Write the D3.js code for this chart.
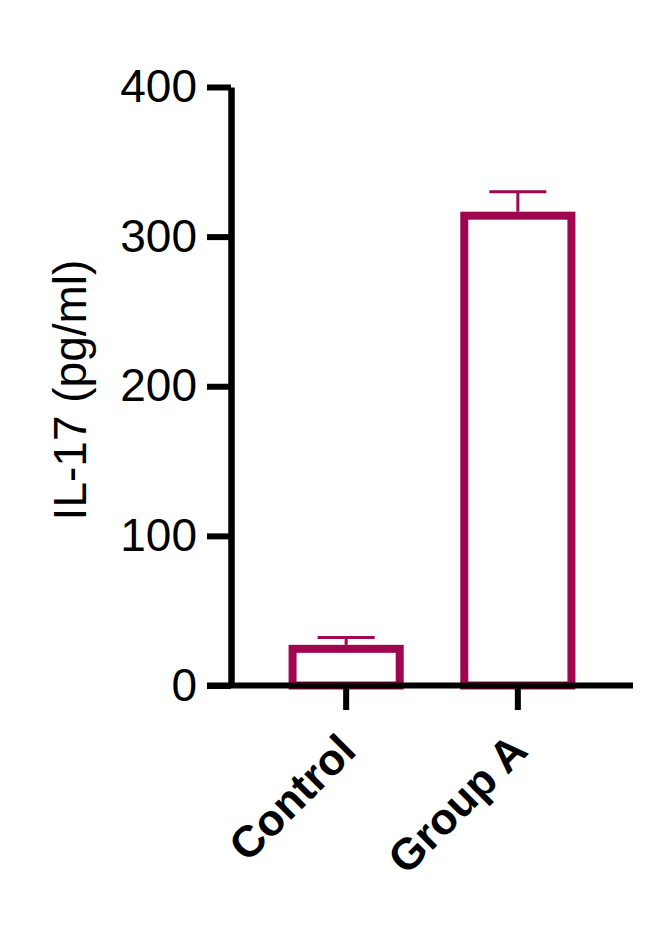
<!DOCTYPE html>
<html>
<head>
<meta charset="utf-8">
<script src="https://cdn.jsdelivr.net/npm/d3@7"></script>
<style>
  body { margin: 0; background: #fff; }
  svg { display: block; }
</style>
</head>
<body>
<svg id="chart"></svg>
<script>
const groups = ["Control", "Group A"];
const means = [24.5, 314];
const errors = [7.5, 16];
const yTicks = [0, 100, 200, 300, 400];

const width = 662, height = 929;
const barColor = "#a0064f";

const svg = d3.select("#chart")
    .attr("width", width)
    .attr("height", height)
    .attr("viewBox", `0 0 ${width} ${height}`);

const y = d3.scaleLinear().domain([0, 400]).range([685.5, 87]);
const x = d3.scaleBand().domain(groups).range([233, 631]).paddingInner(0.376).paddingOuter(0.347);

// bars (outlined, no fill)
svg.append("g").selectAll("rect")
    .data(groups)
    .join("rect")
    .attr("x", (d) => x(d))
    .attr("width", x.bandwidth())
    .attr("y", (d, i) => y(means[i]))
    .attr("height", (d, i) => y(0) - y(means[i]))
    .attr("fill", "none")
    .attr("stroke", barColor)
    .attr("stroke-width", 8);

// error bars (upper only)
const err = svg.append("g").attr("stroke", barColor).attr("stroke-width", 3);
err.selectAll("line.v")
    .data(groups)
    .join("line")
    .attr("class", "v")
    .attr("x1", (d) => x(d) + x.bandwidth() / 2)
    .attr("x2", (d) => x(d) + x.bandwidth() / 2)
    .attr("y1", (d, i) => y(means[i]) - 4)
    .attr("y2", (d, i) => y(means[i] + errors[i]));
err.selectAll("line.cap")
    .data(groups)
    .join("line")
    .attr("class", "cap")
    .attr("x1", (d) => x(d) + x.bandwidth() / 2 - 28.5)
    .attr("x2", (d) => x(d) + x.bandwidth() / 2 + 28.5)
    .attr("y1", (d, i) => y(means[i] + errors[i]))
    .attr("y2", (d, i) => y(means[i] + errors[i]));

// y axis
const yAxis = svg.append("g")
    .attr("transform", "translate(231,0)")
    .call(d3.axisLeft(y).tickValues(yTicks).tickSize(24).tickPadding(10).tickSizeOuter(0));
yAxis.select(".domain").attr("stroke", "#000").attr("stroke-width", 6.5);
yAxis.selectAll(".tick line").attr("stroke", "#000").attr("stroke-width", 6);
yAxis.selectAll(".tick text")
    .attr("fill", "#000")
    .style("font-family", "'Liberation Sans', Arial, sans-serif")
    .style("font-size", "46px");

// x axis line
svg.append("line")
    .attr("x1", 207).attr("x2", 633)
    .attr("y1", y(0)).attr("y2", y(0))
    .attr("stroke", "#000").attr("stroke-width", 6);

// x ticks
svg.append("g").selectAll("line")
    .data(groups)
    .join("line")
    .attr("x1", (d) => x(d) + x.bandwidth() / 2)
    .attr("x2", (d) => x(d) + x.bandwidth() / 2)
    .attr("y1", y(0))
    .attr("y2", 710)
    .attr("stroke", "#000")
    .attr("stroke-width", 6);

// x labels
svg.append("g").selectAll("text")
    .data(groups)
    .join("text")
    .attr("transform", (d) => `translate(${x(d) + x.bandwidth() / 2 + 12},753) rotate(-45)`)
    .attr("text-anchor", "end")
    .style("font-family", "'Liberation Sans', Arial, sans-serif")
    .style("font-weight", "bold")
    .style("font-size", "44px")
    .text((d) => d);

// y title
svg.append("text")
    .attr("transform", "translate(86,390) rotate(-90)")
    .attr("text-anchor", "middle")
    .style("font-family", "'Liberation Sans', Arial, sans-serif")
    .style("font-size", "46px")
    .text("IL-17 (pg/ml)");
</script>
</body>
</html>
